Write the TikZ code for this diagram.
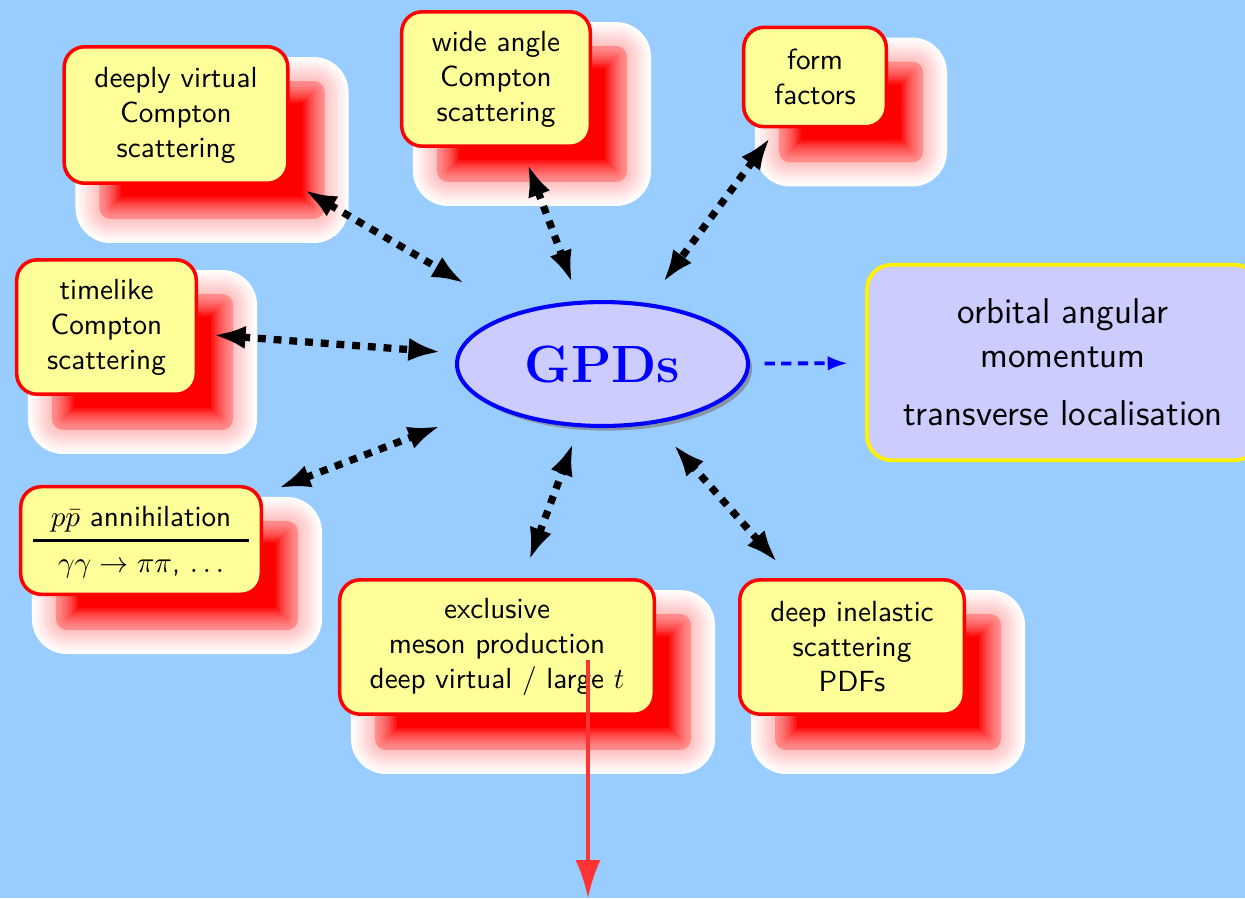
\documentclass[tikz,border=0pt]{standalone}
\usepackage{amsmath}
\usepackage{amssymb}
\usepackage{fontspec}
\usetikzlibrary{arrows.meta,shapes.geometric,shadows,backgrounds,calc}

\definecolor{sky}{RGB}{153,204,255}
\definecolor{paleyellow}{RGB}{255,255,153}
\definecolor{lavender}{RGB}{204,204,255}
\definecolor{arrowred}{RGB}{255,51,51}

\newcommand{\glow}[1]{%
  \foreach \e in {23,21,...,-23} {
    \pgfmathsetmacro\q{abs(\e)/23}
    \pgfmathtruncatemacro\p{\e<0 ? 45+55*\q*sqrt(\q) : 25*(1-\q)}
    \pgfmathsetmacro\r{max(12+\e,0)*0.343}
    \pgfmathsetmacro\xa{36-\e}
    \pgfmathsetmacro\xb{36+\e}
    \pgfmathsetmacro\ya{35+\e}
    \pgfmathsetmacro\yb{35-\e}
    \fill[red!\p!white, rounded corners=\r pt]
      ($(#1.south west)+(\xa,\ya)$) rectangle ($(#1.north east)+(\xb,\yb)$);
  }}

\tikzset{
  topic/.style={draw=red, fill=paleyellow, line width=1.2pt, rounded corners=7pt,
    align=center, font=\sffamily, inner sep=2pt},
  link/.style={{Latex[length=11pt,width=8pt]}-{Latex[length=11pt,width=8pt]},
    line width=2.5pt, dash pattern=on 2.7pt off 2.7pt},
}

\begin{document}
\begin{tikzpicture}[x=0.343pt,y=-0.343pt]
  \useasboundingbox (0,0) rectangle (1245,898);

  \node[topic, minimum width=76.7pt, minimum height=46.8pt] (dvcs) at (176,115) {deeply virtual\\Compton\\scattering};
  \node[topic, minimum width=64.7pt, minimum height=46.1pt] (wacs) at (496,79) {wide angle\\Compton\\scattering};
  \node[topic, minimum width=48.9pt, minimum height=34.1pt] (ff) at (815,77) {form\\factors};
  \node[topic, minimum width=61.6pt, minimum height=46.1pt] (tcs) at (106.5,327) {timelike\\Compton\\scattering};
  \node[topic, minimum width=82.5pt, minimum height=36.9pt] (pp) at (141,540.5)
    {\setlength\arrayrulewidth{0.9pt}\renewcommand\arraystretch{1.25}%
     \begin{tabular}{c}$p\bar{p}$ annihilation\\\hline $\gamma\gamma\to\pi\pi$, $\ldots$\end{tabular}};
  \node[topic, minimum width=107.9pt, minimum height=46.1pt] (mes) at (497,647) {exclusive\\meson production\\deep virtual / large $t$};
  \node[topic, minimum width=77pt, minimum height=46.1pt] (dis) at (852,647) {deep inelastic\\scattering\\PDFs};

  \node[ellipse, draw=blue, fill=lavender, line width=1.4pt, minimum width=99.8pt, minimum height=42.5pt,
    drop shadow={shadow xshift=1.4pt, shadow yshift=-1.6pt, fill=black!50, opacity=.7},
    text=blue, font=\fontsize{18}{21}\selectfont\rmfamily\bfseries] (gpd) at (602.5,364) {GPDs};
  \node[draw=yellow, fill=lavender, line width=1.3pt, rounded corners=8.5pt, minimum width=134.5pt,
    minimum height=67.1pt, align=center, font=\sffamily\fontsize{12.3}{15}\selectfont] (oam) at (1063,362.5)
    {orbital angular\\momentum\\[5pt]transverse localisation};
  \coordinate (out) at (588,898);

  \begin{pgfonlayer}{background}
    \fill[sky] (0,0) rectangle (1245,898);
    \glow{dvcs}
    \glow{wacs}
    \glow{ff}
    \glow{tcs}
    \glow{pp}
    \glow{mes}
    \glow{dis}
  \end{pgfonlayer}

  \draw[link, shorten <=6pt, shorten >=20pt] (dvcs) -- (gpd);
  \draw[link, shorten <=6pt, shorten >=6.7pt] (wacs) -- (gpd);
  \draw[link, shorten <=4pt, shorten >=9pt] (ff) -- (gpd);
  \draw[link, shorten <=5.3pt, shorten >=5.7pt] (tcs) -- (gpd);
  \draw[link, shorten <=5.7pt, shorten >=19pt] (pp) -- (gpd);
  \draw[link, shorten <=6.6pt, shorten >=5.9pt] (mes) -- (gpd);
  \draw[link, shorten <=7.3pt, shorten >=9.6pt] (dis) -- (gpd);
  \draw[blue, line width=1.3pt, dash pattern=on 3.5pt off 2.2pt, -{Latex[length=7pt,width=5pt]},
    shorten <=5pt, shorten >=5.8pt] (gpd) -- (oam);
  \draw[arrowred, line width=1.1pt, -{Latex[length=13pt,width=8.6pt]}] (mes.center -| out) ++(0,13) -- (out);
\end{tikzpicture}
\end{document}
